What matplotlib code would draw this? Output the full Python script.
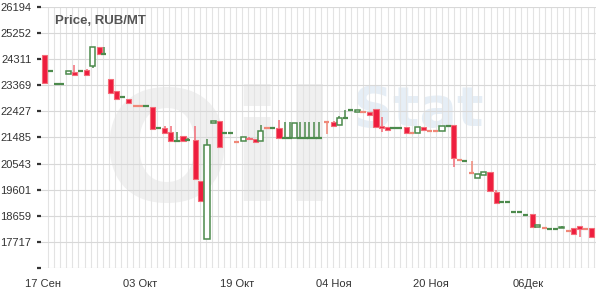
import matplotlib
matplotlib.use("Agg")
import matplotlib.pyplot as plt
import numpy as np

# дни от 17 сентября (позиции свечей)
days = [0.25, 1.2, 2.2, 3.05, 4.2, 5.15, 6.2, 7.2, 8.2, 9.3, 10.05, 11.1, 12.1, 13.15,
        14.15, 15.25, 16.15, 17.0, 18.1, 19.1, 20.1, 21.1, 22.1, 23.1, 23.9, 25.1,
        26.05, 27.05, 28.1, 29.1, 30.0, 30.95, 31.95, 33.05, 34.0, 35.0, 35.9, 36.95,
        37.85, 38.95, 39.9, 40.7, 41.55, 42.4, 43.25, 43.95, 44.75, 45.55, 46.85,
        47.95, 48.9, 49.9, 50.75, 51.9, 52.8, 53.9, 54.95, 55.9, 56.85, 57.75, 58.75,
        59.95, 60.8, 61.8, 62.75, 63.8, 64.7, 65.85, 66.85, 67.8, 68.75, 69.6, 70.75,
        71.75, 72.75, 73.75, 74.8, 75.65, 76.6, 77.6, 78.6, 79.55, 80.75, 81.65, 82.7,
        83.55, 84.55, 85.6, 86.65, 87.55, 88.55, 89.5, 90.55]

opens = [24462, 23895, 23404, 23404, 23765, 23859, 23895, 23931, 24065, 24740, 24480,
         23585, 23151, 22935, 22884, 22612, 22612, 22620, 22596, 21816, 21838, 21694,
         21369, 21527, 21380, 21394, 19914, 17810, 21997, 22090, 21647, 21647, 21335,
         21369, 21475, 21441, 21369, 21818, 21816, 21816, 21455, 21455, 21455, 21455,
         21455, 21455, 21455, 21455, 22060, 22055, 21936, 22177, 22477, 22394, 22417,
         22415, 22513, 21900, 21874, 21838, 21838, 21850, 21636, 21634, 21850, 21721,
         21721, 21719, 21910, 21936, 20674, 20636, 20200, 20011, 20120, 20250, 19517,
         19145, 19145, 18796, 18796, 18687, 18712, 18243, 18209, 18182, 18182, 18207,
         18123, 18207, 18291, 18184, 18218]

closes = [23462, 23895, 23404, 23404, 23873, 23729, 23895, 23729, 24740, 24498, 24498,
          23101, 22863, 22935, 22740, 22610, 22610, 22620, 21780, 21816, 21658, 21369,
          21369, 21369, 21380, 19975, 19192, 21203, 22090, 21152, 21647, 21647, 21333,
          21490, 21441, 21333, 21708, 21816, 21816, 21455, 21455, 21455, 22019, 21455,
          21455, 21455, 21455, 21455, 22040, 21910, 22177, 22177, 22477, 22477, 22415,
          22295, 21874, 21816, 21755, 21838, 21838, 21658, 21634, 21850, 21743, 21719,
          21719, 21910, 21910, 20733, 20672, 20636, 20192, 20167, 20250, 19565, 19131,
          19145, 19145, 18796, 18796, 18687, 18243, 18315, 18207, 18182, 18182, 18267,
          18121, 17991, 18182, 18182, 17882]

highs = [24462, 23895, 23404, 23404, 23873, 24101, 23895, 23967, 24740, 24740, 24740,
         23585, 23151, 22935, 22884, 22612, 22612, 22620, 22596, 21816, 21900, 21910,
         21694, 21527, 21470, 21900, 19914, 21430, 22090, 22090, 21647, 21647, 21335,
         21490, 21500, 21441, 21936, 21818, 21816, 22116, 22055, 22055, 22019, 22055,
         22055, 22055, 22055, 22055, 22060, 22090, 22272, 22477, 22477, 22477, 22417,
         22415, 22513, 22236, 21874, 21838, 21838, 21850, 21636, 21850, 21850, 21760,
         21721, 21910, 21910, 21936, 20674, 20636, 20636, 20167, 20250, 20250, 19590,
         19145, 19145, 18796, 18796, 18687, 18740, 18315, 18240, 18182, 18182, 18300,
         18123, 18207, 18291, 18184, 18218]

lows = [23462, 23895, 23404, 23404, 23765, 23729, 23895, 23729, 23981, 24498, 24480,
        23101, 22830, 22935, 22683, 22610, 22610, 22620, 21780, 21816, 21658, 21369,
        21369, 21369, 21380, 19975, 19192, 17810, 21997, 21152, 21647, 21647, 21333,
        21369, 21441, 21333, 21369, 21816, 21816, 21455, 21455, 21455, 21455, 21455,
        21455, 21455, 21455, 21455, 21610, 21870, 21936, 22177, 22477, 22394, 22415,
        22295, 21874, 21694, 21755, 21838, 21838, 21658, 21634, 21634, 21743, 21719,
        21719, 21719, 21910, 20430, 20672, 20636, 20192, 20011, 20120, 19565, 19131,
        19145, 19145, 18796, 18796, 18687, 18243, 18243, 18207, 18182, 18182, 18207,
        18121, 17991, 17882, 18182, 17882]

y_ticks = [16775, 17717, 18659, 19601, 20543, 21485, 22427, 23369, 24311, 25252, 26194]
y_labels = ["", "17717", "18659", "19601", "20543", "21485", "22427", "23369",
            "24311", "25252", "26194"]
x_ticks = [0, 16, 32, 48, 64, 80]
x_labels = ["17 Сен", "03 Окт", "19 Окт", "04 Ноя", "20 Ноя", "06Дек"]

red = "#ee1d3e"
red_edge = "#f36d78"
red_flat = "#f08878"
green = "#4c8a4c"

fig = plt.figure(figsize=(6, 2.92), dpi=100)
ax = fig.add_axes([41 / 600, 24 / 292, 555 / 600, 261 / 292])
ax.set_xlim(-0.33, 91.25)
ax.set_ylim(y_ticks[0], y_ticks[-1])

# водяной знак
ax.text(0.32, 0.42, "Oil", transform=ax.transAxes, fontsize=110, fontweight="bold",
        color="#f0f0f0", ha="center", va="center", zorder=0, family="DejaVu Sans")
ax.text(0.68, 0.6, "Stat", transform=ax.transAxes, fontsize=40, fontweight="bold",
        color="#e6eef6", ha="center", va="center", zorder=0, family="DejaVu Sans")

# сетка
for d in np.arange(0, 92) + 0.85:
    ax.axvline(d, color="#e3e3e3", lw=0.8, zorder=1)
for t in y_ticks:
    ax.axhline(t, color="#d8d8d8", lw=0.8, zorder=1)

w = 0.85
for x, o, h, l, c in zip(days, opens, highs, lows, closes):
    up = c >= o
    if abs(c - o) < 30:
        col = green if up else red_flat
        if h > max(o, c) or l < min(o, c):
            ax.vlines(x, l, h, color=col, lw=1.1, zorder=3)
        ax.hlines(c, x - w / 2, x + w / 2, color=col, lw=1.6, zorder=4)
        continue
    if up:
        ax.vlines(x, l, h, color=green, lw=1.1, zorder=3)
        ax.bar(x, c - o, bottom=o, width=w, facecolor="white", edgecolor=green,
               lw=1.1, zorder=4)
    else:
        ax.vlines(x, l, h, color=red_edge, lw=1.1, zorder=3)
        ax.bar(x, o - c, bottom=c, width=w, facecolor=red, edgecolor=red_edge,
               lw=0.8, zorder=4)

for s in ax.spines.values():
    s.set_visible(False)

ax.set_yticks(y_ticks)
ax.set_yticklabels(y_labels, fontsize=8, color="#333333", family="Liberation Sans")
ax.tick_params(axis="y", length=3, width=1.6, color="#333333", pad=4)
ax.set_xticks(x_ticks)
ax.set_xticklabels(x_labels, fontsize=8, color="#333333", family="Liberation Sans")
ax.tick_params(axis="x", length=0, pad=8)

ax.text(14 / 555, 0.968, "Price, RUB/MT", transform=ax.transAxes, fontsize=9.5,
        fontweight="bold", color="#555555", ha="left", va="top",
        family="Liberation Sans", zorder=5)

fig.savefig("out.png", dpi=100)
